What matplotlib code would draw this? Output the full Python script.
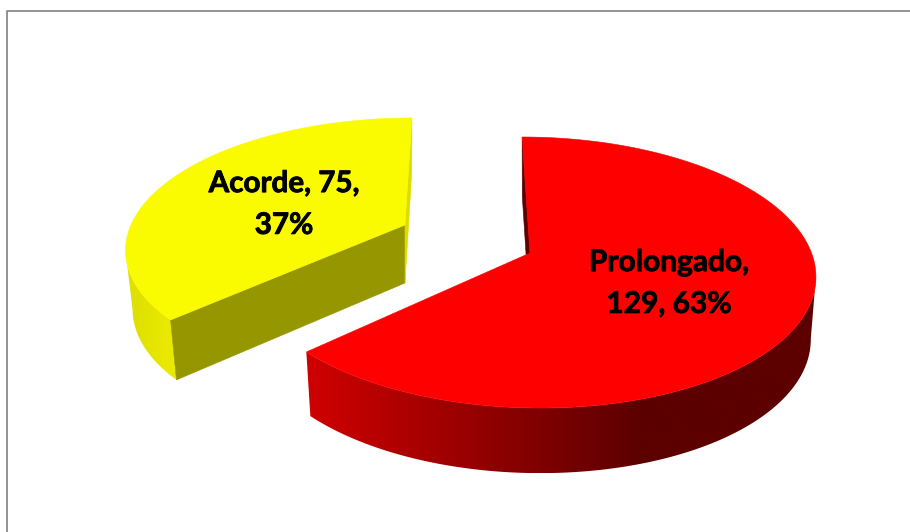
#3D exploded pie, drawn by hand because matplotlib has no perspective pie
import numpy as np
import matplotlib
matplotlib.use('Agg')
import matplotlib.pyplot as plt
import matplotlib.patheffects as pe
from matplotlib.patches import Polygon

categories = ['Prolongado', 'Acorde']
counts = [129, 75]
percents = [63, 37]

# per slice geometry in pixels: apex x,y, radius x,y, perspective, skew, depth, shrink
geo_red = dict(cx=530, cy=253, b=281.5, a=132.7, k=0.144, skew=9, depth=62, shrink=0.982)
geo_yellow = dict(cx=405, cy=225, b=274, a=125, k=0.168, skew=-8, depth=58, shrink=0.975)


def top_point(g, th):
    X = np.sin(th)
    Y = -np.cos(th)
    s = 1 / (1 - g['k'] * Y)
    return g['cx'] + (g['b'] * X + g['skew'] * Y) * s, g['cy'] + g['a'] * Y * s, Y


def bottom_point(g, th):
    x, y, Y = top_point(g, th)
    x2 = g['cx'] + (x - g['cx']) * g['shrink']
    y2 = y + g['depth'] * (1 + 0.05 * Y)
    return x2, y2


def draw_slice(ax, g, start, end, top_col, wall_start, wall_end, side_cols):
    th = np.linspace(start, end, 400)
    xt, yt, _ = top_point(g, th)
    xb, yb = bottom_point(g, th)

    # outer side, only the part that faces the viewer, a horizontal shade clipped to the band
    # (from the widest point of the top face round to the near edge)
    if xt[0] < xt[-1] and xt[0] < g['cx']:
        keep = th <= th[np.argmin(xt)]
    else:
        keep = th >= th[np.argmax(xt)]
    outline = list(zip(xt[keep], yt[keep])) + list(zip(xb[keep][::-1], yb[keep][::-1]))
    band = Polygon(outline, closed=True, fc='none', ec='none', transform=ax.transData)
    ax.add_patch(band)
    x0 = min(xt[keep].min(), xb[keep].min())
    x1 = max(xt[keep].max(), xb[keep].max())
    y0 = min(yt[keep].min(), yb[keep].min())
    y1 = max(yt[keep].max(), yb[keep].max())
    img = ax.imshow(side_cols(np.linspace(x0, x1, 500))[np.newaxis, :, :], extent=[x0, x1, y1, y0],
                    aspect='auto', interpolation='bilinear', zorder=2)
    img.set_clip_path(band)

    # flat walls beside the apex
    apex = (g['cx'], g['cy'])
    apex_b = (g['cx'], g['cy'] + g['depth'])
    if wall_start:
        ax.add_patch(Polygon([(xt[0], yt[0]), apex, apex_b, (xb[0], yb[0])], closed=True,
                             fc=wall_start, ec=wall_start, lw=0.4, zorder=3))
    if wall_end:
        ax.add_patch(Polygon([(xt[-1], yt[-1]), apex, apex_b, (xb[-1], yb[-1])], closed=True,
                             fc=wall_end, ec=wall_end, lw=0.4, zorder=3))

    # top face
    face = [apex] + list(zip(xt, yt))
    ax.add_patch(Polygon(face, closed=True, fc=top_col, ec=top_col, lw=0.4, zorder=4))


def red_side(x):
    t = np.clip((x - 306) / (640 - 306), 0, 1)
    r = (208 - 116 * t) / 255
    return np.column_stack([r, 0 * r, 0 * r])


def yellow_side(x):
    t = np.clip((x - 125) / (178 - 125), 0, 1)
    v = (222 + 14 * t) / 255
    return np.column_stack([v, v, 0 * v])


fig = plt.figure(figsize=(9.10, 5.32), dpi=100, facecolor='white')
ax = fig.add_axes([0, 0, 1, 1])
ax.axis('off')

# chart frame, only top and left are in the crop
ax.plot([7, 7, 910], [532, 10.5, 10.5], color='#808080', lw=1.2, zorder=1)

total = sum(counts)
sweep = [2 * np.pi * c / total for c in counts]

draw_slice(ax, geo_red, 0, sweep[0], '#ff0000', '#5c0000', None, red_side)
draw_slice(ax, geo_yellow, sweep[0], sweep[0] + sweep[1], '#fafa00', '#969600', '#dcdc00', yellow_side)

ax.set_xlim(0, 910)
ax.set_ylim(532, 0)

# Lato bold is a bit lighter than the original labels, so a thin stroke thickens it
heavier = [pe.withStroke(linewidth=0.6, foreground='black')]
ax.text(669, 283, '%s,\n%d, %d%%' % (categories[0], counts[0], percents[0]), ha='center', va='center',
        family='Lato', weight='bold', fontsize=21.5, color='black', linespacing=1.6, zorder=6,
        path_effects=heavier)
ax.text(284, 204, '%s, %d,\n%d%%' % (categories[1], counts[1], percents[1]), ha='center', va='center',
        family='Lato', weight='bold', fontsize=21.3, color='black', linespacing=1.6, zorder=6,
        path_effects=heavier)

plt.savefig('out.png', dpi=100)
